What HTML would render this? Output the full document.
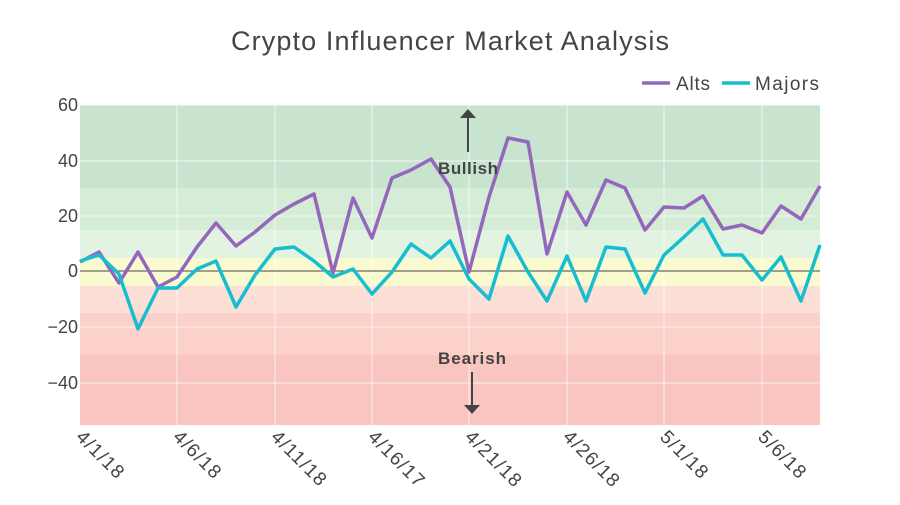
<!DOCTYPE html>
<html><head><meta charset="utf-8"><style>body{margin:0;background:#fff}svg{display:block;font-family:"Liberation Sans","DejaVu Sans",sans-serif}</style></head>
<body>
<svg width="900" height="505" viewBox="0 0 900 505">
<rect x="80" y="105" width="740" height="83" fill="#c8e4cf"/>
<rect x="80" y="188" width="740" height="42" fill="#d5ecd6"/>
<rect x="80" y="230" width="740" height="28" fill="#e3f3e1"/>
<rect x="80" y="258" width="740" height="28" fill="#fafad0"/>
<rect x="80" y="286" width="740" height="27" fill="#fcdfd6"/>
<rect x="80" y="313" width="740" height="42" fill="#fcd1c9"/>
<rect x="80" y="355" width="740" height="70" fill="#f8c5c1"/>
<g stroke="#fff" stroke-opacity="0.7" stroke-width="1">
<line x1="80" y1="105" x2="820" y2="105"/><line x1="80" y1="161" x2="820" y2="161"/><line x1="80" y1="216" x2="820" y2="216"/><line x1="80" y1="327" x2="820" y2="327"/><line x1="80" y1="383" x2="820" y2="383"/>
<line x1="177" y1="100" x2="177" y2="425"/><line x1="275" y1="100" x2="275" y2="425"/><line x1="372" y1="100" x2="372" y2="425"/><line x1="469" y1="100" x2="469" y2="425"/><line x1="567" y1="100" x2="567" y2="425"/><line x1="664" y1="100" x2="664" y2="425"/><line x1="762" y1="100" x2="762" y2="425"/>
</g>
<line x1="80" y1="271" x2="820" y2="271" stroke="#444" stroke-width="1"/>
<polyline fill="none" stroke="#9467bd" stroke-width="3.5" stroke-linejoin="round" points="80,262 99,252 119,283 138,252 158,287 177,277 197,247 216,223 236,246 255,232 275,215 294,204 314,194 333,273 353,198 372,238 392,178 411,170 431,159 450,187 469,272 489,197 508,138 528,142 547,254 567,192 586,225 606,180 625,188 645,230 664,207 684,208 703,196 723,229 742,225 762,233 781,206 801,219 820,186"/>
<polyline fill="none" stroke="#17becf" stroke-width="3.5" stroke-linejoin="round" points="80,261 99,255 119,274 138,329 158,288 177,288 197,269 216,261 236,307 255,275 275,249 294,247 314,261 333,277 353,269 372,294 392,272 411,244 431,258 450,241 469,279 489,299 508,236 528,272 547,301 567,256 586,301 606,247 625,249 645,293 664,255 684,237 703,219 723,255 742,255 762,280 781,257 801,301 820,245"/>
<g fill="#444" stroke="#444">
<line x1="468" y1="152" x2="468" y2="116" stroke-width="2"/><polygon points="460,118 476,118 468,109" stroke="none"/>
<line x1="472" y1="372" x2="472" y2="407" stroke-width="2"/><polygon points="464,405 480,405 472,414" stroke="none"/>
</g>
<text x="468" y="174" text-anchor="middle" font-size="17" font-weight="bold" fill="#444" textLength="60">Bullish</text>
<text x="472" y="364" text-anchor="middle" font-size="17" font-weight="bold" fill="#444" textLength="68">Bearish</text>
<text x="231" y="50" font-size="27" fill="#444" textLength="438">Crypto Influencer Market Analysis</text>
<line x1="642" y1="83" x2="670" y2="83" stroke="#9467bd" stroke-width="3.5"/><text x="676" y="90" font-size="19" fill="#444" textLength="34">Alts</text>
<line x1="722" y1="83" x2="750" y2="83" stroke="#17becf" stroke-width="3.5"/><text x="755" y="90" font-size="19" fill="#444" textLength="64">Majors</text>
<g font-size="18" fill="#444" text-anchor="end">
<text x="78" y="111">60</text><text x="78" y="167">40</text><text x="78" y="222">20</text><text x="78" y="277">0</text><text x="78" y="333">−20</text><text x="78" y="389">−40</text>
</g>
<g font-size="19" fill="#444" letter-spacing="1.2">
<text transform="translate(75,438) rotate(45)">4/1/18</text>
<text transform="translate(172,438) rotate(45)">4/6/18</text>
<text transform="translate(270,438) rotate(45)">4/11/18</text>
<text transform="translate(367,438) rotate(45)">4/16/17</text>
<text transform="translate(464,438) rotate(45)">4/21/18</text>
<text transform="translate(562,438) rotate(45)">4/26/18</text>
<text transform="translate(659,438) rotate(45)">5/1/18</text>
<text transform="translate(757,438) rotate(45)">5/6/18</text>
</g>
</svg>
</body></html>
